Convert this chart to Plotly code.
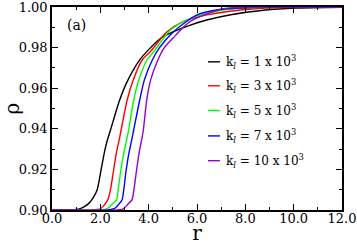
import plotly.graph_objects as go

# ---- data ----
labels = ["1", "3", "5", "7", "10"]
colors = ["#000000", "#ff0000", "#00ff00", "#0000ff", "#9400d3"]

r_k1 = [0, 0.8, 1.2, 1.5, 1.7, 1.87, 2.03, 2.17, 2.28, 2.42, 2.8, 3.1, 3.6, 4.0, 4.5, 5.0, 5.7, 6.4, 7.4, 8.75, 10.1, 12]
p_k1 = [0.9, 0.9, 0.9008, 0.903, 0.906, 0.910, 0.9197, 0.9285, 0.9340, 0.9394, 0.9542, 0.963, 0.9735, 0.979, 0.9846, 0.9877, 0.991, 0.9936, 0.9962, 0.9984, 0.9995, 0.9999]

r_k3 = [0, 1.6, 2.0, 2.2, 2.31, 2.42, 2.55, 2.67, 2.77, 2.86, 3.11, 3.36, 3.73, 4.07, 4.76, 5.45, 6.41, 7.79, 9.0, 12]
p_k3 = [0.9, 0.9, 0.9006, 0.903, 0.905, 0.910, 0.9197, 0.9285, 0.9340, 0.9394, 0.9542, 0.964, 0.9739, 0.978, 0.9878, 0.9929, 0.9961, 0.9985, 0.9996, 1.0]

r_k5 = [0, 2.0, 2.3, 2.5, 2.67, 2.74, 2.85, 2.98, 3.08, 3.17, 3.38, 3.59, 3.93, 4.21, 4.9, 5.72, 7.1, 8.5, 12]
p_k5 = [0.9, 0.9, 0.9008, 0.903, 0.905, 0.910, 0.9197, 0.9285, 0.9340, 0.9394, 0.9542, 0.964, 0.9739, 0.978, 0.9887, 0.9944, 0.9985, 0.9997, 1.0]

r_k7 = [0, 2.3, 2.6, 2.78, 2.90, 2.97, 3.07, 3.19, 3.29, 3.38, 3.63, 3.82, 4.15, 4.45, 5.03, 6.0, 7.1, 8.5, 12]
p_k7 = [0.9, 0.9, 0.9008, 0.903, 0.905, 0.910, 0.9197, 0.9285, 0.9340, 0.9394, 0.9542, 0.964, 0.9739, 0.980, 0.9878, 0.9961, 0.999, 0.9998, 1.0]

r_k10 = [0, 2.7, 2.95, 3.15, 3.31, 3.39, 3.50, 3.61, 3.70, 3.78, 3.92, 4.08, 4.38, 4.65, 5.0, 5.72, 7.1, 8.5, 12]
p_k10 = [0.9, 0.9, 0.9006, 0.903, 0.905, 0.910, 0.9197, 0.9285, 0.9340, 0.9394, 0.9542, 0.964, 0.9739, 0.980, 0.9846, 0.9929, 0.9992, 0.9999, 1.0]

series_r = [r_k1, r_k3, r_k5, r_k7, r_k10]
series_p = [p_k1, p_k3, p_k5, p_k7, p_k10]

x_ticks = [0, 2, 4, 6, 8, 10, 12]
x_ticklabels = ["0.0", "2.0", "4.0", "6.0", "8.0", "10.0", "12.0"]
y_ticks = [0.90, 0.92, 0.94, 0.96, 0.98, 1.00]
y_ticklabels = ["0.90", "0.92", "0.94", "0.96", "0.98", "1.00"]

FONT = "DejaVu Serif"

fig = go.Figure()
for rr, pp, c in zip(series_r, series_p, colors):
    fig.add_trace(go.Scatter(x=rr, y=pp, mode="lines",
                             line=dict(color=c, width=1.4, shape="spline", smoothing=0.7),
                             showlegend=False, hoverinfo="skip"))

# custom legend (short line samples + text)
leg_y = [0.730, 0.612, 0.490, 0.365, 0.243]
for lab, c, yy in zip(labels, colors, leg_y):
    fig.add_shape(type="line", xref="paper", yref="paper",
                  x0=0.538, x1=0.579, y0=yy, y1=yy,
                  line=dict(color=c, width=1.4))
    fig.add_annotation(xref="paper", yref="paper", x=0.594, y=yy,
                       xanchor="left", yanchor="middle", showarrow=False,
                       text="k<sub><i>l</i></sub> = " + lab + " x 10<sup>3</sup>",
                       font=dict(family=FONT, size=12, color="black"))

fig.add_annotation(xref="paper", yref="paper", x=0.045, y=0.91,
                   xanchor="left", yanchor="middle", showarrow=False,
                   text="(a)", font=dict(family=FONT, size=14, color="black"))

axis_common = dict(showline=True, linecolor="black", linewidth=1.5, mirror="allticks",
                   ticks="inside", ticklen=6, tickwidth=1.2, tickcolor="black",
                   showgrid=False, zeroline=False, ticklabeloverflow="allow",
                   tickfont=dict(family=FONT, size=13, color="black"))

fig.update_xaxes(range=[0, 12.0001], tickvals=x_ticks, ticktext=x_ticklabels,
                 minor=dict(dtick=1, ticks="inside", ticklen=3, tickwidth=1.2, tickcolor="black"),
                 ticklabelstandoff=-4,
                 title=dict(text="r", font=dict(family=FONT, size=20, color="black"), standoff=6),
                 automargin=False, **axis_common)
fig.update_yaxes(range=[0.89999, 1.00001], tickvals=y_ticks, ticktext=y_ticklabels,
                 minor=dict(dtick=0.01, ticks="inside", ticklen=3, tickwidth=1.2, tickcolor="black"),
                 title=dict(text="ρ", font=dict(family=FONT, size=20, color="black"), standoff=5),
                 automargin=False, **axis_common)

fig.update_layout(width=357, height=245, margin=dict(l=52, r=15, t=7, b=35),
                  paper_bgcolor="white", plot_bgcolor="white")

fig.write_html("out.html", config={"displayModeBar": False},
               post_script="document.body.style.margin='0';document.body.style.overflow='hidden';")
